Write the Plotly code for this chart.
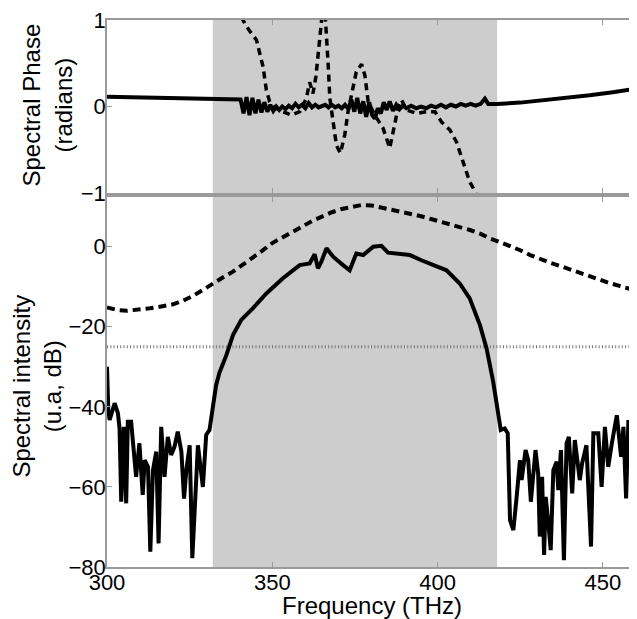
import plotly.graph_objects as go

# ---------------- data ----------------
# spectral phase (top panel), solid curve
phase_freq = [300, 310, 320, 330, 339.5,
              340.4, 341.3, 342.2, 343.1, 344.0, 344.9, 345.8, 346.7, 347.6, 348.5, 349.4, 350.3,
              351.2, 352.1, 353.0, 354.0, 355.0, 356.0, 357.0, 358.0, 359.0, 360.0, 361.0,
              362.0, 363.0, 364.0, 365.0, 366.0, 367.0, 368.0, 369.0, 370.0, 371.0, 372.0, 373.0,
              373.9, 374.8, 375.7, 376.6, 377.5, 378.4, 379.3, 380.2, 381.0, 381.9, 382.8, 383.7,
              384.6, 385.5, 386.5, 387.5, 388.5, 389.5, 390.5, 392.0, 393.5, 395.0, 396.5, 398.0,
              399.5, 401.0, 402.5, 404.0, 405.5, 407.0, 408.5, 410.0, 411.5, 413.0, 414.3, 415.3,
              418, 425, 432, 439, 446, 453, 460]
phase_solid = [0.113, 0.104, 0.095, 0.086, 0.077,
               0.08, -0.08, 0.11, -0.10, 0.10, -0.08, 0.08, -0.07, 0.05, -0.06, 0.02, -0.05,
               0.0, -0.04, 0.0, -0.03, 0.01, -0.02, 0.03, -0.01, 0.02, -0.02, 0.04,
               -0.01, 0.02, -0.01, 0.01, 0.02, -0.01, 0.02, -0.01, 0.01, -0.02, 0.02, -0.03,
               0.08, -0.06, 0.10, -0.08, 0.06, -0.12, 0.05, -0.10, -0.14, -0.02, -0.08, 0.05,
               -0.04, 0.06, -0.05, 0.02, -0.03, 0.01, -0.02, 0.01, -0.02, 0.0, -0.02, 0.01,
               -0.01, 0.02, -0.01, 0.02, 0.0, 0.03, 0.01, 0.03, 0.01, 0.03, 0.09, 0.03,
               0.03, 0.045, 0.07, 0.10, 0.13, 0.165, 0.205]

# spectral phase, dashed curve
phase_dash_freq = [338.5, 341.1, 343, 345.2, 347.2, 348.2, 349.2, 351, 353.2, 355.8, 358.3, 360.3,
                   361.3, 362.3, 363.2, 364.2, 364.8, 365.3, 366.0, 366.4, 366.9, 367.4, 368.4,
                   369.4, 370.6, 371.9, 372.9, 373.9, 375.4, 377, 378, 379, 381, 383.5, 385.5,
                   387, 388, 389.1, 390.6, 393.6, 396.6, 399.2, 401.2, 403.7, 405.7, 407.7,
                   409.7, 411.3, 412.5]
phase_dash = [1.3, 1.0, 0.88, 0.77, 0.46, 0.19, 0.055, -0.02, -0.06, -0.1, -0.06, 0.095,
              0.28, 0.15, 0.35, 0.75, 1.0, 1.15, 1.05, 0.83, 0.48, 0.095, -0.21,
              -0.45, -0.54, -0.33, -0.06, 0.13, 0.40, 0.49, 0.36, 0.055, -0.1, -0.25, -0.48,
              -0.21, -0.02, 0.075, -0.04, -0.08, -0.06, -0.06, -0.18, -0.27, -0.41, -0.64,
              -0.87, -0.98, -1.15]

# spectral intensity (bottom panel), solid curve
int_freq = [300.0, 300.4, 300.8, 302.3, 303.3, 303.8, 304.3, 305.1, 305.8, 306.3, 307.3, 308.8,
            309.8, 310.8, 311.4, 312.4, 313.1, 313.9, 314.9, 315.6, 316.4, 317.4, 318.4, 319.4,
            320.4, 321.4, 322.5, 323.3, 324.0, 325.0, 325.8, 326.5, 327.5, 329.0, 330.0, 331.0,
            332.0, 333.0, 334.0, 336.1, 338.1, 340.6, 344.1, 348.2, 353.2, 358.3, 361.3, 362.8,
            363.8, 364.8, 366.4, 368.4, 371.4, 373.4, 375.4, 377.5, 380.5, 383.0, 385.0, 388.6,
            391.6, 395.1, 399.7, 402.7, 406.7, 409.7, 412.8, 414.8, 416.8, 418.3, 419.1, 420.3,
            421.2, 421.9, 422.9, 423.9, 424.9, 425.4, 426.6, 427.4, 428.2, 429.6, 430.4, 430.9,
            431.6, 432.2, 432.7, 433.5, 434.2, 435.0, 436.0, 436.5, 437.3, 438.2, 439.0, 439.7,
            440.7, 441.5, 443.0, 443.7, 445.0, 446.4, 447.1, 448.6, 449.6, 450.6, 451.6, 452.6,
            454.2, 455.5, 456.2, 457.0, 457.7, 458.7, 459.7]
int_solid = [-30.0, -41.0, -43.3, -39.1, -41.6, -45.4, -63.7, -45.0, -64.1, -43.7, -43.7, -57.5,
             -49.1, -62.0, -53.3, -55.0, -76.2, -55.8, -51.2, -74.1, -45.0, -57.5, -47.5, -52.0,
             -50.0, -46.2, -51.2, -62.9, -55.8, -49.6, -77.8, -64.1, -49.6, -60.0, -47.0, -45.8,
             -40.0, -34.6, -31.5, -27.1, -22.1, -18.3, -15.4, -11.7, -7.9, -4.6, -4.2, -1.9,
             -5.4, -3.8, -0.4, -2.5, -4.6, -5.9, -1.7, -2.1, 0.0, 0.2, -1.5, -1.7,
             -2.1, -3.4, -5.0, -5.9, -9.2, -12.9, -19.6, -25.4, -33.7, -40.8, -45.8, -45.4,
             -46.6, -68.3, -70.8, -62.5, -53.3, -58.3, -50.8, -53.3, -63.7, -50.8, -56.6, -72.4,
             -57.5, -77.0, -62.5, -69.1, -75.8, -55.8, -53.7, -60.8, -50.8, -78.3, -49.1, -47.5,
             -61.6, -48.3, -58.3, -54.1, -49.6, -74.9, -46.6, -46.6, -60.0, -45.0, -55.0, -49.6,
             -42.1, -52.5, -45.0, -62.9, -43.3, -53.3, -45.8]

# spectral intensity, dashed curve
int_dash_freq = [300, 303, 306, 310, 313, 316, 320, 323, 326, 329, 332, 335, 338, 341, 344, 347,
                 350, 353, 356, 359, 362, 365, 368, 371, 374, 377, 380, 383, 386, 389, 392, 395,
                 398, 401, 404, 407, 410, 413, 416, 419, 422, 425, 428, 431, 434, 437, 440, 443,
                 446, 449, 452, 455, 458, 460]
int_dash = [-15.2, -15.8, -16.0, -15.8, -15.4, -15.0, -14.4, -13.5, -12.3, -10.8, -9.1, -7.7,
            -6.3, -4.6, -2.9, -1.0, 0.9, 2.2, 3.6, 5.0, 6.4, 7.5, 8.6, 9.4, 10.0, 10.4, 10.3,
            9.8, 9.3, 8.8, 8.3, 7.6, 6.9, 6.2, 5.6, 4.8, 4.1, 3.2, 2.0, 1.1, 0.2, -0.9, -2.1,
            -3.1, -4.0, -4.8, -5.7, -6.6, -7.5, -8.4, -9.1, -9.8, -10.5, -11.0]

threshold_db = -25
band = [332, 418]
x_ticks = [300, 350, 400, 450]
phase_ticks = [-1, 0, 1]
int_ticks = [-80, -60, -40, -20, 0]

# ---------------- figure ----------------
FONT = "Liberation Sans, Arial, sans-serif"
AX = "#9a9a9a"

fig = go.Figure()
fig.add_trace(go.Scatter(x=phase_dash_freq, y=phase_dash, mode="lines", xaxis="x", yaxis="y",
                         line=dict(color="black", width=3.5, dash="7px,5px"), showlegend=False))
fig.add_trace(go.Scatter(x=phase_freq, y=phase_solid, mode="lines", xaxis="x", yaxis="y",
                         line=dict(color="black", width=4), showlegend=False))
fig.add_trace(go.Scatter(x=[300, 460], y=[threshold_db, threshold_db], mode="lines", xaxis="x2", yaxis="y2",
                         line=dict(color="#777777", width=3, dash="1px,2.3px"), showlegend=False))
fig.add_trace(go.Scatter(x=int_dash_freq, y=int_dash, mode="lines", xaxis="x2", yaxis="y2",
                         line=dict(color="black", width=4, dash="8px,5px"), showlegend=False))
fig.add_trace(go.Scatter(x=int_freq, y=int_solid, mode="lines", xaxis="x2", yaxis="y2",
                         line=dict(color="black", width=4), showlegend=False))

fig.add_shape(type="rect", xref="x", yref="y", x0=band[0], x1=band[1], y0=-1, y1=1,
              fillcolor="#cdcdcd", line=dict(width=0), layer="below")
fig.add_shape(type="rect", xref="x2", yref="y2", x0=band[0], x1=band[1], y0=-80, y1=12.4,
              fillcolor="#cdcdcd", line=dict(width=0), layer="below")

axis_common = dict(showline=True, linecolor=AX, linewidth=1.5, mirror="ticks", ticks="inside",
                   ticklen=5, tickcolor=AX, showgrid=False, zeroline=False, automargin=False,
                   ticklabelstandoff=-5, ticklabeloverflow="allow",
                   tickfont=dict(family=FONT, size=22, color="black"))

# the page body has an 8 px margin, so margins are shifted by 8 px to land the plot in place
fig.update_layout(
    width=637, height=619,
    margin=dict(l=99, r=9, t=12, b=60),
    paper_bgcolor="white", plot_bgcolor="white",
    xaxis=dict(domain=[0, 1], anchor="y", range=[300, 460], tickvals=x_ticks, showticklabels=False,
               **axis_common),
    yaxis=dict(domain=[0.6837, 1], anchor="x", range=[-1, 1], tickvals=phase_ticks, **axis_common),
    xaxis2=dict(domain=[0, 1], anchor="y2", range=[300, 460], tickvals=x_ticks, **axis_common),
    yaxis2=dict(domain=[0, 0.6764], anchor="x2", range=[-80, 12.4], tickvals=int_ticks, **axis_common),
    annotations=[
        dict(text="Spectral Phase<br>(radians)", xref="paper", yref="paper", x=-0.1125, y=0.8446,
             textangle=-90, showarrow=False, xanchor="center", yanchor="middle",
             font=dict(family=FONT, size=24, color="black")),
        dict(text="Spectral intensity<br>(u.a, dB)", xref="paper", yref="paper", x=-0.133, y=0.331,
             textangle=-90, showarrow=False, xanchor="center", yanchor="middle",
             font=dict(family=FONT, size=24, color="black")),
        dict(text="Frequency (THz)", xref="paper", yref="paper", x=0.501, y=-0.0695,
             showarrow=False, xanchor="center", yanchor="middle",
             font=dict(family=FONT, size=24, color="black")),
    ],
)

fig.write_html("out.html")
